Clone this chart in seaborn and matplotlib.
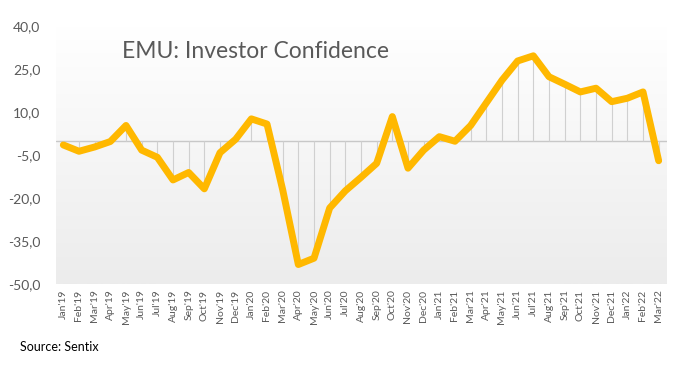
import numpy as np
import pandas as pd
import matplotlib
matplotlib.use("Agg")
import matplotlib.pyplot as plt
import seaborn as sns
from matplotlib.colors import LinearSegmentedColormap

months = ["Jan'19","Feb'19","Mar'19","Apr'19","May'19","Jun'19","Jul'19","Aug'19","Sep'19","Oct'19","Nov'19","Dec'19",
          "Jan'20","Feb'20","Mar'20","Apr'20","May'20","Jun'20","Jul'20","Aug'20","Sep'20","Oct'20","Nov'20","Dec'20",
          "Jan'21","Feb'21","Mar'21","Apr'21","May'21","Jun'21","Jul'21","Aug'21","Sep'21","Oct'21","Nov'21","Dec'21",
          "Jan'22","Feb'22","Mar'22"]
values = [-1.5, -3.7, -2.2, -0.3, 5.3, -3.3, -5.8, -13.7, -11.1, -16.8, -4.2, 0.5,
          7.6, 5.8, -17.1, -43.2, -41.0, -23.5, -17.5, -12.8, -7.9, 8.4, -9.6, -3.3,
          1.4, -0.2, 5.3, 13.2, 21.1, 27.8, 29.6, 22.3, 19.7, 17.0, 18.3, 13.6,
          14.8, 17.0, -7.0]
yticks = [40, 25, 10, -5, -20, -35, -50]
title = "EMU: Investor Confidence"
source = "Source: Sentix"

df = pd.DataFrame({"idx": np.arange(len(months)), "month": months, "value": values})

sns.set_theme(style="white")
plt.rcParams['font.family'] = ['Lato', 'DejaVu Sans']

fig = plt.figure(figsize=(6.81, 3.68), dpi=100)
ax = fig.add_axes([55.5/681, 1-284/368, (666.5-55.5)/681, (284-26)/368])

# gradient background
grad = np.linspace(0, 1, 256).reshape(-1, 1)
cmap = LinearSegmentedColormap.from_list("bg", ["#ffffff", "#ececec"])
ax.imshow(grad, aspect="auto", cmap=cmap, extent=[0, 1, 0, 1], transform=ax.transAxes, zorder=0)

ax.axhline(0, color="#c8c8c8", lw=1.0, zorder=1)
ax.vlines(df["idx"], 0, df["value"], color="#d0d0d0", lw=0.8, zorder=1)
sns.lineplot(data=df, x="idx", y="value", ax=ax, color="#FFB800", lw=5,
             solid_joinstyle="round", solid_capstyle="round", zorder=3)

ax.set_xlim(-0.5, len(months) - 0.5)
ax.set_ylim(-50, 40)
ax.set_yticks(yticks)
ax.set_yticklabels([f"{t:.1f}".replace(".", ",") for t in yticks], fontsize=10, color="#595959")
ax.set_xticks(df["idx"])
ax.set_xticklabels(months, rotation=90, fontsize=7.5, color="#595959")
ax.tick_params(axis="both", length=0, pad=4)
ax.tick_params(axis="y", pad=11)
ax.set_xlabel("")
ax.set_ylabel("")
for s in ax.spines.values():
    s.set_visible(False)

fig.text(122/681, 1-52/368, title, fontsize=16.5, color="#595959", va="center", ha="left")
fig.text(20/681, 1-347/368, source, fontsize=9, color="black", va="center", ha="left")

fig.savefig("out.png", dpi=100)
